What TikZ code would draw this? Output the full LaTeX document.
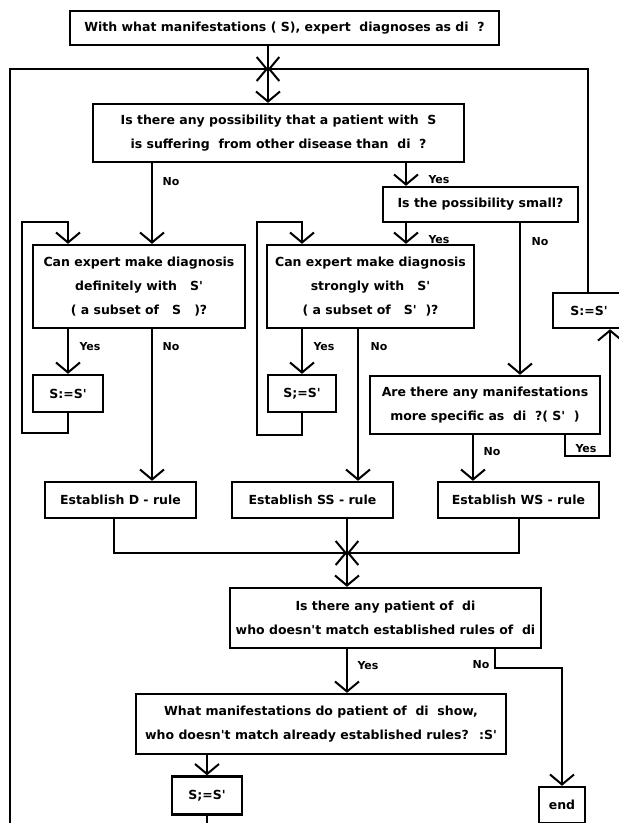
\documentclass[tikz,border=0pt]{standalone}
\usepackage{fontspec}
\newfontfamily\dvs{DejaVu Sans}
\usetikzlibrary{arrows.meta}
\newcommand\boxfnt{\dvs\fontsize{12.5}{24}\selectfont\bfseries}
\newcommand\lblfnt{\dvs\fontsize{11}{13}\selectfont\bfseries}
\begin{document}
\begin{tikzpicture}[x=1pt,y=-1pt,line width=2pt,
  >={Straight Barb[length=10pt,width=24pt]},
  box/.style={draw,line width=2.4pt,inner sep=0pt,align=center,font=\boxfnt},
  lbl/.style={font=\lblfnt,inner sep=0pt}]
\clip (0,0) rectangle (619,823);
% boxes
\node[box,minimum width=429pt,minimum height=34pt] (top) at (284.5,28) {With what manifestations ( S), expert~ diagnoses as di~ ?};
\node[box,minimum width=371pt,minimum height=58pt] (q1) at (278.5,133) {Is there any possibility that a patient with~ S\\is suffering~ from other disease than~ di~ ?};
\node[box,minimum width=195pt,minimum height=35pt] (small) at (480.5,204.5) {Is the possibility small?};
\node[box,minimum width=212pt,minimum height=83pt] (canD) at (139,286.5) {Can expert make diagnosis\\definitely with~~ S'\\( a subset of~~ S~~ )?};
\node[box,minimum width=207pt,minimum height=83pt] (canSS) at (370.5,286.5) {Can expert make diagnosis\\strongly with~~ S'\\( a subset of~~ S'~ )?};
\node[box,minimum width=72pt,minimum height=35pt] (sR) at (589,310.5) {S:=S'};
\node[box,minimum width=70pt,minimum height=37pt] (sL) at (68,393.5) {S:=S'};
\node[box,minimum width=68pt,minimum height=37pt] (sM) at (302,393.5) {S;=S'};
\node[box,minimum width=230pt,minimum height=58pt] (are) at (485,405) {Are there any manifestations\\more specific as~ di~ ?( S'~ )};
\node[box,minimum width=151pt,minimum height=36pt] (dR) at (120.5,500) {Establish D - rule};
\node[box,minimum width=161pt,minimum height=36pt] (ssR) at (312.5,500) {Establish SS - rule};
\node[box,minimum width=161pt,minimum height=36pt] (wsR) at (518.5,500) {Establish WS - rule};
\node[box,minimum width=311pt,minimum height=60pt] (pat) at (385.5,618) {Is there any patient of~ di\\who doesn't match established rules of~ di};
\node[box,minimum width=370pt,minimum height=60pt] (what) at (321,724) {What manifestations do patient of~ di~ show,\\who doesn't match already established rules?~ :S'};
\node[box,minimum width=70pt,minimum height=38pt] (sB) at (207,795.5) {S;=S'};
\node[box,minimum width=46pt,minimum height=36pt] (endB) at (562,805) {end};
% junctions and helper points
\coordinate (j1) at (268,69);
\coordinate (j2) at (347,553);
\coordinate (lt) at (10,69);
\coordinate (bb) at (207,840);
\coordinate (rt) at (588,69);
\coordinate (n1) at (152,0);
\coordinate (y1) at (406,0);
\coordinate (n2) at (520,0);
\coordinate (n3) at (358,0);
\coordinate (n4) at (473,0);
\coordinate (dlb) at (22,433);
\coordinate (dlt) at (22,222);
\coordinate (smb) at (257,435);
\coordinate (smt) at (257,222);
\coordinate (ay) at (565,456);
\coordinate (ayc) at (610,456);
\coordinate (dj) at (114,553);
\coordinate (wj) at (519,553);
\coordinate (pn) at (495,668);
% connectors
\draw (top.south -| j1) -- (j1);
\draw[->] (j1) -- (q1.north -| j1);
\draw[->] (sB.south) -- (bb) -| (lt) -- (j1);
\draw[->] (sR.north -| rt) -- (rt) -- (j1);
\draw[->] (q1.south -| n1) -- (canD.north -| n1);
\draw[->] (q1.south -| y1) -- (small.north -| y1);
\draw[->] (small.south -| y1) -- (canSS.north -| y1);
\draw[->] (small.south -| n2) -- (are.north -| n2);
\draw[->] (canD.south -| sL.north) -- (sL.north);
\draw[->] (sL.south) |- (dlb) -- (dlt) -| (canD.north -| sL.north);
\draw[->] (canD.south -| n1) -- (dR.north -| n1);
\draw[->] (canSS.south -| sM.north) -- (sM.north);
\draw[->] (sM.south) |- (smb) -- (smt) -| (canSS.north -| sM.north);
\draw[->] (canSS.south -| n3) -- (ssR.north -| n3);
\draw[->] (are.south -| n4) -- (wsR.north -| n4);
\draw[->] (are.south -| ay) -- (ay) -- (ayc) -- (sR.south -| ayc);
\draw[->] (dR.south -| dj) -- (dj) -- (j2);
\draw (ssR.south -| j2) -- (j2);
\draw[->] (wsR.south -| wj) -- (wj) -- (j2);
\draw[->] (j2) -- (pat.north -| j2);
\draw[->] (pat.south -| j2) -- (what.north -| j2);
\draw[->] (pat.south -| pn) -- (pn) -| (endB.north);
\draw[->] (what.south -| sB.north) -- (sB.north);
% labels
\node[lbl] (l1) at (171,182) {No};
\node[lbl] (l2) at (439,180) {Yes};
\node[lbl] (l3) at (439,240) {Yes};
\node[lbl] (l4) at (540,242) {No};
\node[lbl] (l5) at (90,347) {Yes};
\node[lbl] (l6) at (171,347) {No};
\node[lbl] (l7) at (324,347) {Yes};
\node[lbl] (l8) at (379,347) {No};
\node[lbl] (l9) at (492,452) {No};
\node[lbl] (l10) at (586,449) {Yes};
\node[lbl] (l11) at (368,666) {Yes};
\node[lbl] (l12) at (481,665) {No};
\end{tikzpicture}
\end{document}
